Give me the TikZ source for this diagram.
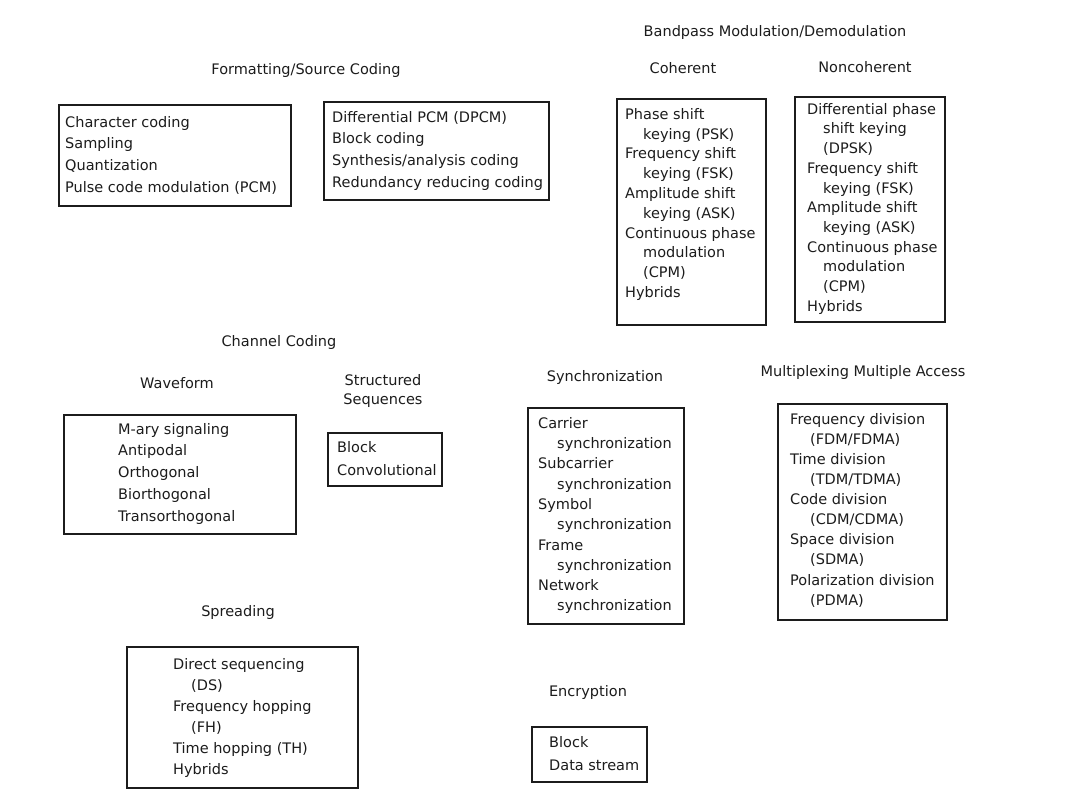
\documentclass[tikz,border=0pt]{standalone}
\usepackage{fontspec}
\setmainfont{DejaVu Sans}
\definecolor{ink}{HTML}{1C1C1C}
\begin{document}
\begin{tikzpicture}[x=1bp,y=-1bp,
  frame/.style={draw=ink, line width=1.1bp, inner sep=0pt, outer sep=0pt, anchor=north west},
  list/.style={align=left, inner sep=0pt, anchor=north west, text=ink,
    font=\fontsize{14.5bp}{#1}\selectfont},
  list/.default=21.7bp,
  head/.style={align=center, inner sep=0pt, text=ink,
    font=\fontsize{14.5bp}{19bp}\selectfont}]
\newcommand{\ind}[1]{\hspace*{#1bp}}
\useasboundingbox[fill=white] (0,0) rectangle (1066,790);

% ---- Formatting / source coding
\node[head] (hfmt) at (306,71) {Formatting/Source Coding};
\node[frame, minimum width=232bp, minimum height=101bp] (fmtA) at (59,105) {};
\node[list] (fmtAt) at (65,116) {Character coding\\Sampling\\Quantization\\Pulse code modulation (PCM)};
\node[frame, minimum width=225bp, minimum height=98bp] (fmtB) at (324,102) {};
\node[list] (fmtBt) at (332,111) {Differential PCM (DPCM)\\Block coding\\Synthesis/analysis coding\\Redundancy reducing coding};

% ---- Bandpass modulation / demodulation
\node[head] (hbp) at (775,33) {Bandpass Modulation/Demodulation};
\node[head] (hcoh) at (683,68) {Coherent};
\node[head] (hnon) at (865,67) {Noncoherent};
\node[frame, minimum width=149bp, minimum height=226bp] (coh) at (617,99) {};
\node[list=19.8bp] (coht) at (625,108) {Phase shift\\\ind{18}keying (PSK)\\Frequency shift\\\ind{18}keying (FSK)\\Amplitude shift\\\ind{18}keying (ASK)\\Continuous phase\\\ind{18}modulation\\\ind{18}(CPM)\\Hybrids};
\node[frame, minimum width=150bp, minimum height=225bp] (non) at (795,97) {};
\node[list=19.7bp] (nont) at (807,103) {Differential phase\\\ind{16}shift keying\\\ind{16}(DPSK)\\Frequency shift\\\ind{16}keying (FSK)\\Amplitude shift\\\ind{16}keying (ASK)\\Continuous phase\\\ind{16}modulation\\\ind{16}(CPM)\\Hybrids};

% ---- Channel coding
\node[head] (hcc) at (279,342) {Channel Coding};
\node[head] (hwave) at (177,383) {Waveform};
\node[head] (hstruct) at (383,391) {Structured\\Sequences};
\node[frame, minimum width=232bp, minimum height=119bp] (wave) at (64,415) {};
\node[list] (wavet) at (118,423) {M-ary signaling\\Antipodal\\Orthogonal\\Biorthogonal\\Transorthogonal};
\node[frame, minimum width=114bp, minimum height=53bp] (struct) at (328,433) {};
\node[list=23bp] (structt) at (337,441) {Block\\Convolutional};

% ---- Synchronization
\node[head] (hsync) at (605,377) {Synchronization};
\node[frame, minimum width=156bp, minimum height=216bp] (sync) at (528,408) {};
\node[list=20.3bp] (synct) at (538,417) {Carrier\\\ind{19}synchronization\\Subcarrier\\\ind{19}synchronization\\Symbol\\\ind{19}synchronization\\Frame\\\ind{19}synchronization\\Network\\\ind{19}synchronization};

% ---- Multiplexing / multiple access
\node[head] (hmux) at (863,372) {Multiplexing Multiple Access};
\node[frame, minimum width=169bp, minimum height=216bp] (mux) at (778,404) {};
\node[list=20.1bp] (muxt) at (790,413) {Frequency division\\\ind{20}(FDM/FDMA)\\Time division\\\ind{20}(TDM/TDMA)\\Code division\\\ind{20}(CDM/CDMA)\\Space division\\\ind{20}(SDMA)\\Polarization division\\\ind{20}(PDMA)};

% ---- Spreading
\node[head] (hspread) at (238,612) {Spreading};
\node[frame, minimum width=231bp, minimum height=141bp] (spread) at (127,647) {};
\node[list=21bp] (spreadt) at (173,658) {Direct sequencing\\\ind{18}(DS)\\Frequency hopping\\\ind{18}(FH)\\Time hopping (TH)\\Hybrids};

% ---- Encryption
\node[head] (henc) at (588,692) {Encryption};
\node[frame, minimum width=115bp, minimum height=55bp] (enc) at (532,727) {};
\node[list=23bp] (enct) at (549,736) {Block\\Data stream};
\end{tikzpicture}
\end{document}
